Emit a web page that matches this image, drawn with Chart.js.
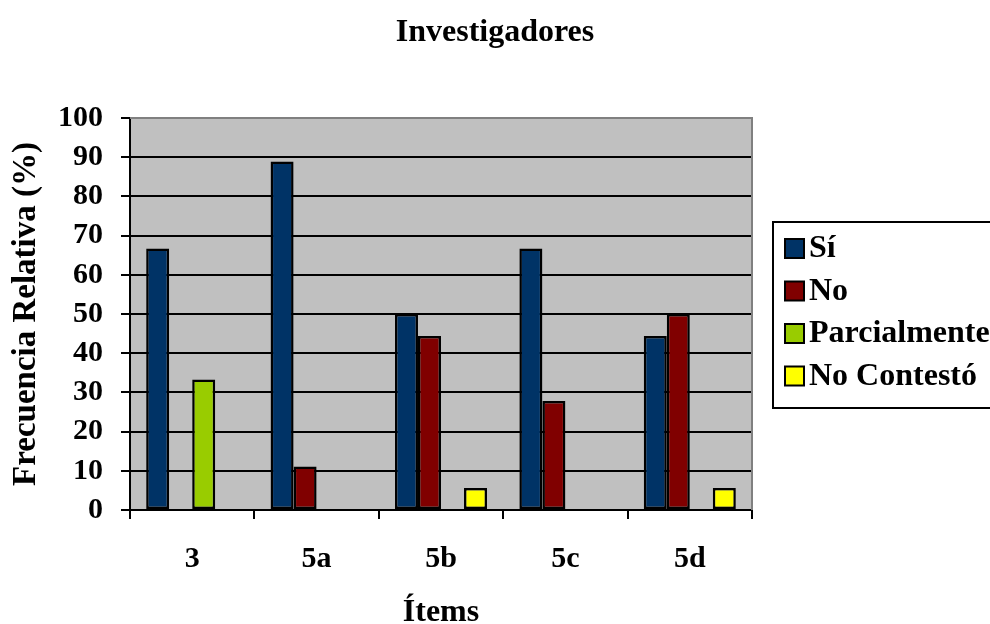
<!DOCTYPE html>
<html>
<head>
<meta charset="utf-8">
<script src="https://cdn.jsdelivr.net/npm/chart.js@4/dist/chart.umd.min.js"></script>
<style>
html,body{margin:0;padding:0;background:#fff;}
canvas{display:block;}
</style>
</head>
<body>
<canvas id="c" width="990" height="624"></canvas>
<script>
const categories = ['3', '5a', '5b', '5c', '5d'];
const seriesNames = ['Sí', 'No', 'Parcialmente', 'No Contestó'];
const si = [66.7, 88.9, 50.0, 66.7, 44.4];
const no = [null, 11.1, 44.4, 27.8, 50.0];
const parcialmente = [33.3, null, null, null, null];
const noContesto = [null, null, 5.6, null, 5.6];
const yTicks = [0, 10, 20, 30, 40, 50, 60, 70, 80, 90, 100];
const chartTitle = 'Investigadores';
const xTitle = 'Ítems';
const yTitle = 'Frecuencia Relativa (%)';

const colors = ['#003366', '#800000', '#99CC00', '#FFFF00'];
const FONT = "'Liberation Serif', 'Times New Roman', serif";

const plotBg = {
  id: 'plotBg',
  beforeDraw(chart) {
    const {ctx, chartArea: a} = chart;
    ctx.save();
    ctx.fillStyle = '#C0C0C0';
    ctx.fillRect(a.left, a.top, a.right - a.left, a.bottom - a.top);
    ctx.restore();
  },
  afterDraw(chart) {
    const {ctx, chartArea: a} = chart;
    ctx.save();
    ctx.strokeStyle = '#808080';
    ctx.lineWidth = 2;
    ctx.beginPath();
    ctx.moveTo(a.left, a.top);
    ctx.lineTo(a.right, a.top);
    ctx.lineTo(a.right, a.bottom);
    ctx.stroke();
    ctx.fillStyle = '#000';
    ctx.font = "bold 32px " + FONT;
    ctx.textAlign = 'center';
    ctx.textBaseline = 'middle';
    ctx.fillText(chartTitle, 495, 33);
    ctx.lineWidth = 2;
    ctx.strokeStyle = '#000';
    ctx.strokeRect(773, 222, 300, 186);
    const ds = chart.data.datasets;
    ctx.textAlign = 'left';
    ds.forEach((d, i) => {
      const cy = 248 + i * 42.5;
      ctx.fillStyle = d.backgroundColor;
      ctx.fillRect(785, cy - 9, 19, 19);
      ctx.strokeRect(785, cy - 9, 19, 19);
      ctx.fillStyle = '#000';
      ctx.fillText(d.label, 809, cy + 1);
    });
    ctx.restore();
  }
};

const datasets = [si, no, parcialmente, noContesto].map((vals, i) => ({
  label: seriesNames[i],
  data: vals,
  backgroundColor: colors[i],
  borderColor: '#000',
  borderWidth: 2.5,
  borderSkipped: false,
  categoryPercentage: 0.74,
  barPercentage: 1.0
}));

new Chart(document.getElementById('c'), {
  type: 'bar',
  data: { labels: categories, datasets },
  options: {
    responsive: false,
    animation: false,
    layout: { padding: { left: 0, top: 118, right: 238, bottom: 0 } },
    plugins: {
      legend: { display: false },
      title: { display: false },
      tooltip: { enabled: false }
    },
    scales: {
      x: {
        offset: true,
        grid: { offset: true, drawOnChartArea: false, drawTicks: true, tickLength: 9, color: '#000', lineWidth: 2 },
        border: { display: true, color: '#000', width: 2 },
        ticks: { color: '#000', font: { family: FONT, size: 30, weight: 'bold' }, padding: 22, maxRotation: 0 },
        title: { display: true, text: xTitle, color: '#000', font: { family: FONT, size: 32, weight: 'bold', lineHeight: 0.7 }, padding: { top: 0, bottom: 0 } },
        afterFit(scale) { scale.height = 114; }
      },
      y: {
        min: 0, max: 100,
        afterBuildTicks(scale) { scale.ticks = yTicks.map(v => ({ value: v })); },
        grid: { color: '#000', lineWidth: 2, drawTicks: true, tickLength: 9 },
        border: { display: true, color: '#000', width: 2 },
        ticks: { color: '#000', font: { family: FONT, size: 30, weight: 'bold' }, padding: 18 },
        title: { display: true, text: yTitle, color: '#000', font: { family: FONT, size: 33, weight: 'bold', lineHeight: 1.2 }, padding: { top: 7, bottom: 0 } },
        afterFit(scale) { scale.width = 130; }
      }
    }
  },
  plugins: [plotBg]
});
</script>
</body>
</html>
